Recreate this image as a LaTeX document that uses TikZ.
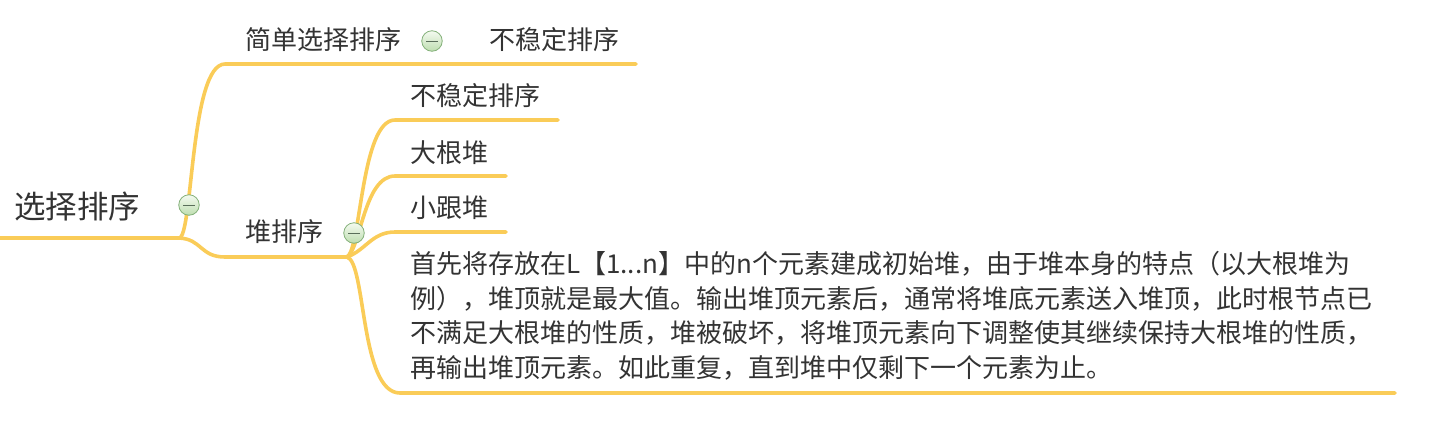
\documentclass[tikz,border=0pt]{standalone}
\usepackage{fontspec}
\setmainfont{Noto Sans CJK SC}
\definecolor{branch}{RGB}{250,204,88}
\definecolor{txt}{RGB}{51,51,51}
\definecolor{icoborder}{RGB}{130,175,120}
\definecolor{icotop}{RGB}{244,250,240}
\definecolor{icobot}{RGB}{190,222,176}
\definecolor{icominus}{RGB}{90,110,90}
\tikzset{
  br/.style={draw=branch, line width=3.6pt, line cap=round},
  lbl/.style={anchor=west, inner sep=0pt, text=txt, font=\fontsize{26}{26}\selectfont},
  rootlbl/.style={anchor=west, inner sep=0pt, text=txt, font=\fontsize{31.5}{31.5}\selectfont},
  para/.style={anchor=north west, inner sep=0pt, text=txt, align=left, font=\fontsize{26}{34.7}\selectfont},
  fold/.style={circle, minimum size=20.5pt, inner sep=0pt, draw=icoborder, line width=0.8pt, top color=icotop, bottom color=icobot},
}
\newcommand{\foldicon}[2]{%
  \node[fold] (#1) at (#2) {};
  \draw[icominus, line width=0.9pt] ([xshift=-6pt]#1.center) -- ([xshift=6pt]#1.center);
}
\begin{document}
\begin{tikzpicture}[x=1pt, y=-1pt]
\useasboundingbox (0,0) rectangle (1437,434);
% coordinates
\coordinate (rootL) at (0,238);
\coordinate (rootR) at (179,238);
\coordinate (aS) at (225,64);
\coordinate (aE) at (636,64);
\coordinate (bS) at (225,257);
\coordinate (hub) at (347,257);
\coordinate (c1S) at (395,120);
\coordinate (c1E) at (558,120);
\coordinate (c2S) at (395,176);
\coordinate (c2E) at (506,176);
\coordinate (c3S) at (395,232);
\coordinate (c3E) at (506,232);
\coordinate (c4S) at (400,393);
\coordinate (c4E) at (1395,393);
% branches
\draw[br] (rootL) -- (rootR);
\draw[br] (rootR) .. controls (193,238) and (190,64) .. (aS) -- (aE);
\draw[br] (rootR) .. controls (202,239) and (200,257) .. (bS) -- (hub);
\draw[br] (hub) .. controls (361,250) and (361,120) .. (c1S) -- (c1E);
\draw[br] (hub) .. controls (361,248) and (364,176) .. (c2S) -- (c2E);
\draw[br] (hub) .. controls (366,250) and (372,232) .. (c3S) -- (c3E);
\draw[br] (hub) .. controls (366,262) and (360,393) .. (c4S) -- (c4E);
% labels
\node[rootlbl] (root) at (14,206) {选择排序};
\node[lbl] (simple) at (245,40) {简单选择排序};
\node[lbl] (unst1) at (489,40) {不稳定排序};
\node[lbl] (heap) at (245,232) {堆排序};
\node[lbl] (unst2) at (410,96) {不稳定排序};
\node[lbl] (big) at (410,153) {大根堆};
\node[lbl] (small) at (410,208) {小跟堆};
\node[para] (desc) at (410,251) {首先将存放在L【1...n】中的n个元素建成初始堆，由于堆本身的特点（以大根堆为\\例），堆顶就是最大值。输出堆顶元素后，通常将堆底元素送入堆顶，此时根节点已\\不满足大根堆的性质，堆被破坏，将堆顶元素向下调整使其继续保持大根堆的性质，\\再输出堆顶元素。如此重复，直到堆中仅剩下一个元素为止。};
% fold icons
\foldicon{f1}{189,205}
\foldicon{f2}{432,41}
\foldicon{f3}{354,233}
\end{tikzpicture}
\end{document}
